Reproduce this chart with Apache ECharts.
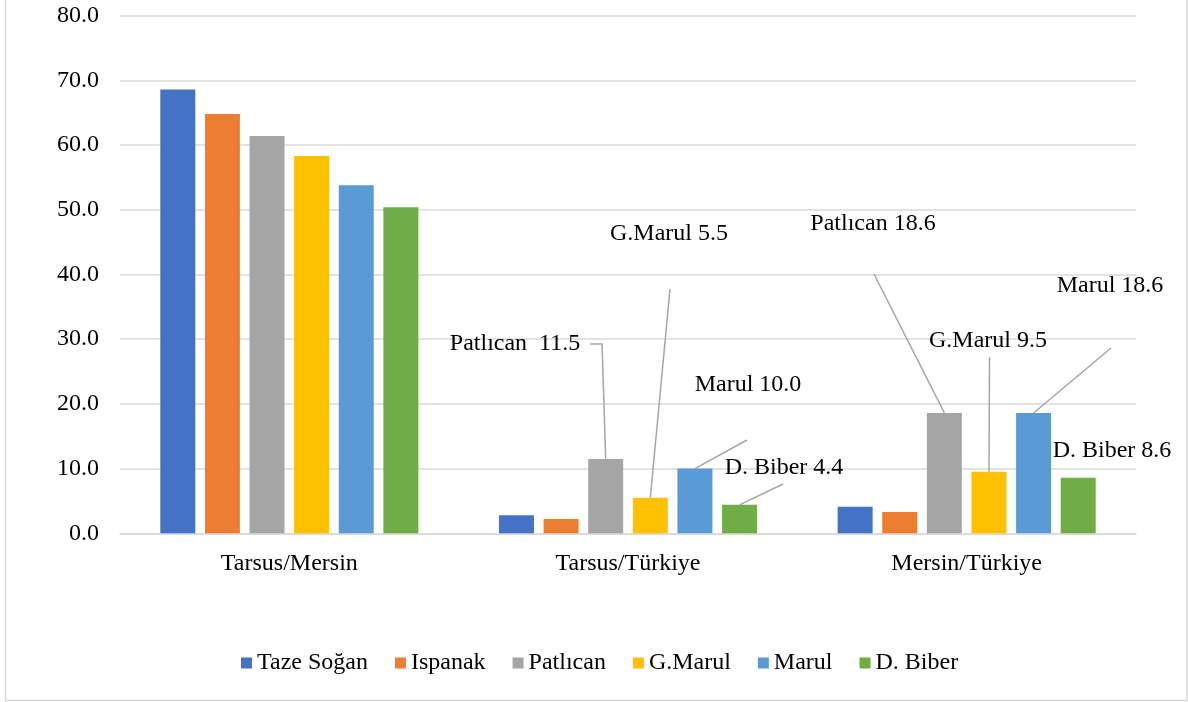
<!DOCTYPE html>
<html>
<head>
<meta charset="utf-8">
<script src="https://cdn.jsdelivr.net/npm/echarts@6/dist/echarts.min.js"></script>
<style>
  html, body { margin: 0; padding: 0; background: #fff; }
  #chart { width: 1188px; height: 702px; }
</style>
</head>
<body>
<div id="chart"></div>
<script>
// ---- data ----
const categories = ['Tarsus/Mersin', 'Tarsus/Türkiye', 'Mersin/Türkiye'];
const seriesNames = ['Taze Soğan', 'Ispanak', 'Patlıcan', 'G.Marul', 'Marul', 'D. Biber'];
const tazeSogan = [68.6, 2.8, 4.1];
const ispanak   = [64.8, 2.2, 3.3];
const patlican  = [61.4, 11.5, 18.6];
const gMarul    = [58.3, 5.5, 9.5];
const marul     = [53.8, 10.0, 18.6];
const dBiber    = [50.4, 4.4, 8.6];
const seriesValues = [tazeSogan, ispanak, patlican, gMarul, marul, dBiber];
const yTicks = { min: 0, max: 80, interval: 10 };

// ---- styles / layout ----
const colors = ['#4472C4', '#ED7D31', '#A5A5A5', '#FFC000', '#5B9BD5', '#70AD47'];
const FONT = '"Liberation Serif", "Times New Roman", serif';
const FS = 24;
const CAT_GAP = 0.238;
const BAR_GAP = 0.275;
const N = seriesNames.length;

// data-label annotations: key "category-series" -> label centre, leader-line anchor points, separator
const annotations = {
  '1-2': { x: 515, y: 344, sep: '  ', line: [[590, 344], [602, 344]] },
  '1-3': { x: 669, y: 234, sep: ' ', line: [[670, 289]] },
  '1-4': { x: 748, y: 385, sep: ' ', line: [[747, 440]] },
  '1-5': { x: 784, y: 468, sep: ' ', line: [[783, 484]] },
  '2-2': { x: 873, y: 224, sep: ' ', line: [[874, 274]] },
  '2-3': { x: 988, y: 341, sep: ' ', line: [[989.5, 357]] },
  '2-4': { x: 1110, y: 286, sep: ' ', line: [[1111, 348]] },
  '2-5': { x: 1112, y: 451, sep: ' ', line: null }
};

const barSeries = seriesNames.map((name, s) => ({
  name: name,
  type: 'bar',
  barCategoryGap: (CAT_GAP * 100) + '%',
  barGap: (BAR_GAP * 100) + '%',
  itemStyle: { color: colors[s] },
  data: seriesValues[s].map((v, c) => {
    const a = annotations[c + '-' + s];
    return a ? { value: v, label: { show: true } } : v;
  }),
  label: {
    show: false,
    color: '#000',
    fontFamily: FONT,
    fontSize: FS,
    formatter: (p) => {
      const a = annotations[p.dataIndex + '-' + s];
      return p.seriesName + (a ? a.sep : ' ') + p.value.toFixed(1);
    }
  },
  labelLayout: (p) => {
    const a = annotations[p.dataIndex + '-' + p.seriesIndex];
    if (!a) return {};
    return { x: a.x, y: a.y, align: 'center', verticalAlign: 'middle' };
  }
}));

const lineKeys = Object.keys(annotations).filter(k => annotations[k].line);
const lineData = lineKeys.map((k, i) => {
  const [c, s] = k.split('-').map(Number);
  return [c, seriesValues[s][c], s, i];
});

const leaderSeries = {
  type: 'custom',
  silent: true,
  z: 5,
  data: lineData,
  encode: { x: 0, y: 1 },
  renderItem: (params, api) => {
    const c = api.value(0), v = api.value(1), s = api.value(2), i = api.value(3);
    const p = api.coord([c, v]);
    const band = api.size([1, 0])[0];
    const bw = band * (1 - CAT_GAP) / (N + (N - 1) * BAR_GAP);
    const x = p[0] + (s - (N - 1) / 2) * bw * (1 + BAR_GAP);
    const pts = annotations[lineKeys[i]].line.concat([[x, p[1]]]);
    return {
      type: 'polyline',
      shape: { points: pts },
      style: { stroke: '#A6A6A6', lineWidth: 1.5, fill: null }
    };
  }
};

const chart = echarts.init(document.getElementById('chart'), null, { renderer: 'canvas' });
chart.setOption({
  animation: false,
  backgroundColor: '#fff',
  textStyle: { fontFamily: FONT },
  grid: { left: 120, right: 52, top: 15.7, bottom: 168.7, containLabel: false },
  legend: {
    data: seriesNames,
    left: 241,
    top: 651,
    padding: 0,
    icon: 'rect',
    itemWidth: 11,
    itemHeight: 11,
    itemGap: 27,
    textStyle: { fontFamily: FONT, fontSize: FS, color: '#000' }
  },
  xAxis: {
    type: 'category',
    data: categories,
    axisTick: { show: false },
    axisLine: { lineStyle: { color: '#D9D9D9', width: 1.5 } },
    axisLabel: { color: '#000', fontFamily: FONT, fontSize: FS, margin: 18 }
  },
  yAxis: {
    type: 'value',
    min: yTicks.min,
    max: yTicks.max,
    interval: yTicks.interval,
    axisLine: { show: false },
    axisTick: { show: false },
    splitLine: { lineStyle: { color: '#D9D9D9', width: 1.5 } },
    axisLabel: {
      color: '#000', fontFamily: FONT, fontSize: FS, margin: 21,
      formatter: (v) => v.toFixed(1)
    }
  },
  graphic: [{
    type: 'rect',
    silent: true,
    z: -10,
    shape: { x: 5.5, y: -2, width: 1181.5, height: 702.5 },
    style: { fill: null, stroke: '#D9D9D9', lineWidth: 1.5 }
  }],
  series: barSeries.concat([leaderSeries])
});
</script>
</body>
</html>
